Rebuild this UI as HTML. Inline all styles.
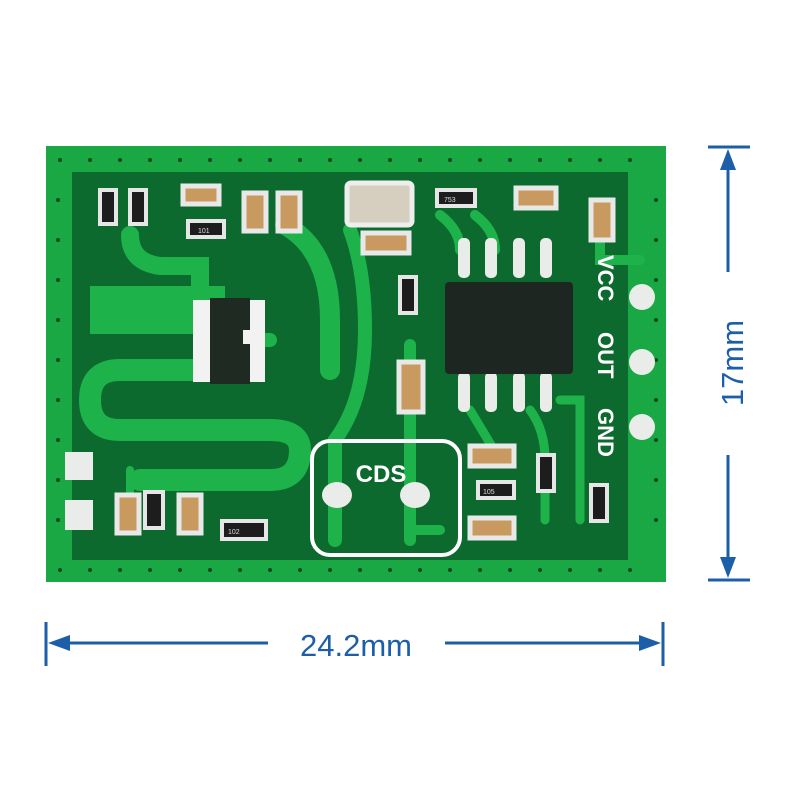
<!DOCTYPE html>
<html><head><meta charset="utf-8"><style>html,body{margin:0;padding:0;background:#fff}svg{display:block}</style></head>
<body>
<svg width="800" height="800" viewBox="0 0 800 800" xmlns="http://www.w3.org/2000/svg">
<rect width="800" height="800" fill="#fff"/>
<rect x="46" y="146" width="620" height="436" fill="#1aa845"/>
<rect x="72" y="172" width="556" height="388" fill="#0d6a2e"/>
<rect x="628" y="200" width="22" height="360" fill="#1aa845"/>
<g fill="#0a4a20">
<circle cx="60" cy="160" r="2"/><circle cx="90" cy="160" r="2"/><circle cx="120" cy="160" r="2"/><circle cx="150" cy="160" r="2"/><circle cx="180" cy="160" r="2"/><circle cx="210" cy="160" r="2"/><circle cx="240" cy="160" r="2"/><circle cx="270" cy="160" r="2"/><circle cx="300" cy="160" r="2"/><circle cx="330" cy="160" r="2"/><circle cx="360" cy="160" r="2"/><circle cx="390" cy="160" r="2"/><circle cx="420" cy="160" r="2"/><circle cx="450" cy="160" r="2"/><circle cx="480" cy="160" r="2"/><circle cx="510" cy="160" r="2"/><circle cx="540" cy="160" r="2"/><circle cx="570" cy="160" r="2"/><circle cx="600" cy="160" r="2"/><circle cx="630" cy="160" r="2"/>
<circle cx="60" cy="570" r="2"/><circle cx="90" cy="570" r="2"/><circle cx="120" cy="570" r="2"/><circle cx="150" cy="570" r="2"/><circle cx="180" cy="570" r="2"/><circle cx="210" cy="570" r="2"/><circle cx="240" cy="570" r="2"/><circle cx="270" cy="570" r="2"/><circle cx="300" cy="570" r="2"/><circle cx="330" cy="570" r="2"/><circle cx="360" cy="570" r="2"/><circle cx="390" cy="570" r="2"/><circle cx="420" cy="570" r="2"/><circle cx="450" cy="570" r="2"/><circle cx="480" cy="570" r="2"/><circle cx="510" cy="570" r="2"/><circle cx="540" cy="570" r="2"/><circle cx="570" cy="570" r="2"/><circle cx="600" cy="570" r="2"/><circle cx="630" cy="570" r="2"/>
<circle cx="58" cy="200" r="2"/><circle cx="58" cy="240" r="2"/><circle cx="58" cy="280" r="2"/><circle cx="58" cy="320" r="2"/><circle cx="58" cy="360" r="2"/><circle cx="58" cy="400" r="2"/><circle cx="58" cy="440" r="2"/><circle cx="58" cy="480" r="2"/><circle cx="58" cy="520" r="2"/>
<circle cx="656" cy="200" r="2"/><circle cx="656" cy="240" r="2"/><circle cx="656" cy="280" r="2"/><circle cx="656" cy="320" r="2"/><circle cx="656" cy="360" r="2"/><circle cx="656" cy="400" r="2"/><circle cx="656" cy="440" r="2"/><circle cx="656" cy="480" r="2"/><circle cx="656" cy="520" r="2"/>
</g>
<g fill="none" stroke="#1db34a" stroke-linecap="round">
<path d="M130 235 Q130 262 160 266 L200 266 L200 300" stroke-width="18"/>
<path d="M90 310 L225 310" stroke-width="48" stroke-linecap="butt"/>
<path d="M230 340 L270 340" stroke-width="14"/>
<path d="M235 370 L120 370 Q90 370 90 400 Q90 430 120 430 L270 430 Q300 430 300 450 Q300 480 270 480 L140 480" stroke-width="22"/>
<path d="M285 225 Q330 250 330 320 L330 370" stroke-width="20"/>
<path d="M350 230 Q365 270 365 330 Q365 400 335 440 L335 540" stroke-width="14"/>
<path d="M410 345 L410 540" stroke-width="12"/>
<path d="M410 530 L440 530" stroke-width="10"/>
<path d="M440 215 Q460 230 460 250" stroke-width="10"/>
<path d="M475 215 Q495 230 495 250" stroke-width="10"/>
<path d="M470 410 L500 460" stroke-width="9"/>
<path d="M530 410 Q545 430 545 460 L545 520" stroke-width="9"/>
<path d="M560 400 L580 400 L580 520" stroke-width="9"/>
<path d="M600 240 L600 260 L640 260" stroke-width="10"/>
<path d="M130 470 L130 520" stroke-width="8"/>
</g>
<g fill="#e9ece9">
<rect x="458" y="238" width="12" height="40" rx="5"/><rect x="485" y="238" width="12" height="40" rx="5"/><rect x="513" y="238" width="12" height="40" rx="5"/><rect x="540" y="238" width="12" height="40" rx="5"/>
<rect x="458" y="372" width="12" height="40" rx="5"/><rect x="485" y="372" width="12" height="40" rx="5"/><rect x="513" y="372" width="12" height="40" rx="5"/><rect x="540" y="372" width="12" height="40" rx="5"/>
<circle cx="642" cy="297" r="13"/><circle cx="642" cy="362" r="13"/><circle cx="642" cy="427" r="13"/>
<rect x="193" y="300" width="72" height="82" fill="#f2f2f2"/>
<rect x="65" y="452" width="28" height="28"/><rect x="65" y="500" width="28" height="30"/>
<ellipse cx="337" cy="495" rx="15" ry="13"/><ellipse cx="415" cy="495" rx="15" ry="13"/>
</g>
<rect x="210" y="298" width="40" height="86" fill="#1e2a22"/>
<rect x="243" y="330" width="20" height="14" fill="#f2f2f2"/>
<rect x="445" y="282" width="128" height="92" rx="4" fill="#1d2621"/>
<g fill="#1d1d1d" stroke="#e6e6e6" stroke-width="4">
<rect x="100" y="190" width="16" height="34"/><rect x="130" y="190" width="16" height="34"/>
<rect x="188" y="221" width="36" height="16"/>
<rect x="400" y="277" width="16" height="36"/>
<rect x="437" y="190" width="38" height="16"/>
<rect x="538" y="455" width="16" height="36"/>
<rect x="591" y="485" width="16" height="36"/>
<rect x="478" y="482" width="36" height="16"/>
<rect x="145" y="492" width="18" height="36"/>
<rect x="222" y="521" width="44" height="18"/>
</g>
<g fill="#c99a5f" stroke="#e8e8e8" stroke-width="5">
<rect x="183" y="186" width="36" height="18"/>
<rect x="244" y="193" width="22" height="38"/><rect x="278" y="193" width="22" height="38"/>
<rect x="363" y="233" width="46" height="20"/>
<rect x="516" y="188" width="40" height="20"/>
<rect x="591" y="200" width="22" height="40"/>
<rect x="399" y="362" width="24" height="50"/>
<rect x="470" y="446" width="44" height="20"/><rect x="470" y="518" width="44" height="20"/>
<rect x="117" y="495" width="22" height="38"/><rect x="179" y="495" width="22" height="38"/>
</g>
<rect x="347" y="183" width="65" height="42" rx="4" fill="#d6cfc0" stroke="#eee" stroke-width="5"/>
<rect x="312" y="441" width="148" height="114" rx="18" fill="none" stroke="#fff" stroke-width="4"/>
<g font-family="Liberation Sans, sans-serif" font-weight="bold" fill="#fff">
<text x="381" y="482" font-size="24" text-anchor="middle">CDS</text>
<text transform="translate(598,255) rotate(90)" font-size="22">VCC</text>
<text transform="translate(598,332) rotate(90)" font-size="22">OUT</text>
<text transform="translate(598,408) rotate(90)" font-size="22">GND</text>
</g>
<g font-family="Liberation Sans, sans-serif" font-size="7" fill="#ddd">
<text x="228" y="534">102</text><text x="198" y="233">101</text><text x="483" y="494">105</text><text x="444" y="202">753</text>
</g>
<g stroke="#1c5fa8" stroke-width="3" fill="#1c5fa8">
<line x1="708" y1="147" x2="750" y2="147"/><line x1="708" y1="580" x2="750" y2="580"/>
<line x1="728" y1="160" x2="728" y2="272"/><line x1="728" y1="455" x2="728" y2="567"/>
<polygon points="728,149 720,170 736,170" stroke="none"/><polygon points="728,578 720,557 736,557" stroke="none"/>
<line x1="46" y1="622" x2="46" y2="666"/><line x1="663" y1="622" x2="663" y2="666"/>
<line x1="60" y1="643" x2="268" y2="643"/><line x1="445" y1="643" x2="650" y2="643"/>
<polygon points="48,643 70,635 70,651" stroke="none"/><polygon points="661,643 639,635 639,651" stroke="none"/>
</g>
<g font-family="Liberation Sans, sans-serif" font-size="31" fill="#1c5fa8">
<text x="356" y="656" text-anchor="middle">24.2mm</text>
<text transform="translate(743,363) rotate(-90)" text-anchor="middle">17mm</text>
</g>
</svg>
</body></html>
